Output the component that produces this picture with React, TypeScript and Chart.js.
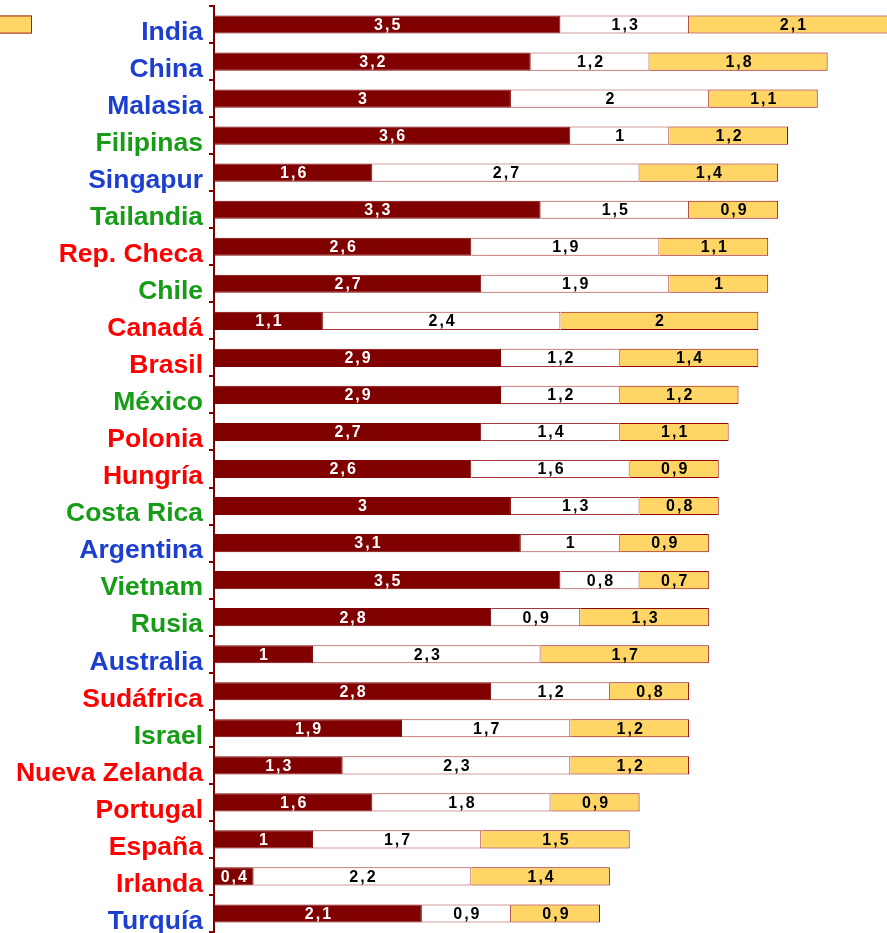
import React, { useEffect, useRef } from "react";
import { Chart, registerables } from "chart.js";

Chart.register(...registerables);

const countries = [
  "India", "China", "Malasia", "Filipinas", "Singapur", "Tailandia", "Rep. Checa", "Chile",
  "Canadá", "Brasil", "México", "Polonia", "Hungría", "Costa Rica", "Argentina", "Vietnam",
  "Rusia", "Australia", "Sudáfrica", "Israel", "Nueva Zelanda", "Portugal", "España", "Irlanda", "Turquía",
];

// label colour group per country: b = blue, g = green, r = red
const groups = [
  "b", "b", "b", "g", "b", "g", "r", "g",
  "r", "r", "g", "r", "r", "g", "b", "g",
  "g", "b", "r", "g", "r", "r", "r", "r", "b",
];

const series1 = [3.5, 3.2, 3, 3.6, 1.6, 3.3, 2.6, 2.7, 1.1, 2.9, 2.9, 2.7, 2.6, 3, 3.1, 3.5, 2.8, 1, 2.8, 1.9, 1.3, 1.6, 1, 0.4, 2.1];
const series2 = [1.3, 1.2, 2, 1, 2.7, 1.5, 1.9, 1.9, 2.4, 1.2, 1.2, 1.4, 1.6, 1.3, 1, 0.8, 0.9, 2.3, 1.2, 1.7, 2.3, 1.8, 1.7, 2.2, 0.9];
const series3 = [2.1, 1.8, 1.1, 1.2, 1.4, 0.9, 1.1, 1, 2, 1.4, 1.2, 1.1, 0.9, 0.8, 0.9, 0.7, 1.3, 1.7, 0.8, 1.2, 1.2, 0.9, 1.5, 1.4, 0.9];

const groupColors: Record<string, string> = { b: "#1c3fcf", g: "#169c16", r: "#ff0000" };

const DARK = "#800000";
const ORANGE = "#ffd566";
const FONT = "'Liberation Sans', Arial, sans-serif";

const valueLabels = {
  id: "valueLabels",
  afterDatasetsDraw(chart: any) {
    const ctx = chart.ctx;
    const area = chart.chartArea;
    ctx.save();
    ctx.beginPath();
    ctx.rect(area.left, area.top, area.right - area.left, area.bottom - area.top);
    ctx.clip();
    ctx.font = `bold 16px ${FONT}`;
    (ctx as any).letterSpacing = "2px";
    ctx.textAlign = "center";
    ctx.textBaseline = "middle";
    chart.data.datasets.forEach((ds: any, di: number) => {
      const meta = chart.getDatasetMeta(di);
      ctx.fillStyle = di === 0 ? "#ffffff" : "#000000";
      meta.data.forEach((el: any, i: number) => {
        const v = ds.data[i];
        const txt = String(v).replace(".", ",");
        const cx = (el.x + el.base) / 2 + 1;
        ctx.fillText(txt, cx, el.y + 1);
      });
    });
    ctx.restore();
    // partial legend swatch at left edge
    const first = chart.getDatasetMeta(2).data[0];
    if (first) {
      ctx.save();
      const h = first.height;
      ctx.fillStyle = ORANGE;
      ctx.strokeStyle = "#a0201a";
      ctx.lineWidth = 1;
      ctx.fillRect(-2, first.y - h / 2, 34, h);
      ctx.strokeRect(-2.5, first.y - h / 2 + 0.5, 34, h - 1);
      ctx.restore();
    }
  },
};

export default function App() {
  const ref = useRef<HTMLCanvasElement | null>(null);
  useEffect(() => {
    if (!ref.current) return;
    const chart = new Chart(ref.current, {
      type: "bar",
      data: {
        labels: countries.map((c) => ["", c]),
        datasets: [
          { data: series1, backgroundColor: DARK, borderColor: DARK, borderWidth: 1 },
          { data: series2, backgroundColor: "#ffffff", borderColor: "#a83a3a", borderWidth: 1 },
          { data: series3, backgroundColor: ORANGE, borderColor: "#990000", borderWidth: 1 },
        ],
      },
      options: {
        indexAxis: "y",
        animation: false,
        responsive: true,
        maintainAspectRatio: false,
        layout: { padding: { top: 6, bottom: 1, left: 0, right: 0 } },
        datasets: { bar: { barPercentage: 0.49, categoryPercentage: 1 } },
        plugins: { legend: { display: false }, tooltip: { enabled: false } },
        scales: {
          x: { stacked: true, display: false, min: 0, max: 6.8 },
          y: {
            stacked: true,
            afterFit: (scale: any) => {
              scale.width = 214;
              scale.paddingTop = 0;
              scale.paddingBottom = 0;
            },
            border: { color: DARK, width: 2 },
            grid: { drawOnChartArea: false, drawTicks: true, tickLength: 5, color: DARK, lineWidth: 2, offset: true },
            ticks: {
              padding: 6,
              autoSkip: false,
              font: { family: FONT, size: 26.5, weight: "bold", lineHeight: "16px" },
              color: (c: any) => groupColors[groups[c.index]],
            },
          },
        },
      },
      plugins: [valueLabels],
    } as any);
    return () => chart.destroy();
  }, []);
  return (
    <div style={{ position: "absolute", left: 0, top: 0, width: 887, height: 933, background: "#fff" }}>
      <canvas ref={ref} />
    </div>
  );
}
